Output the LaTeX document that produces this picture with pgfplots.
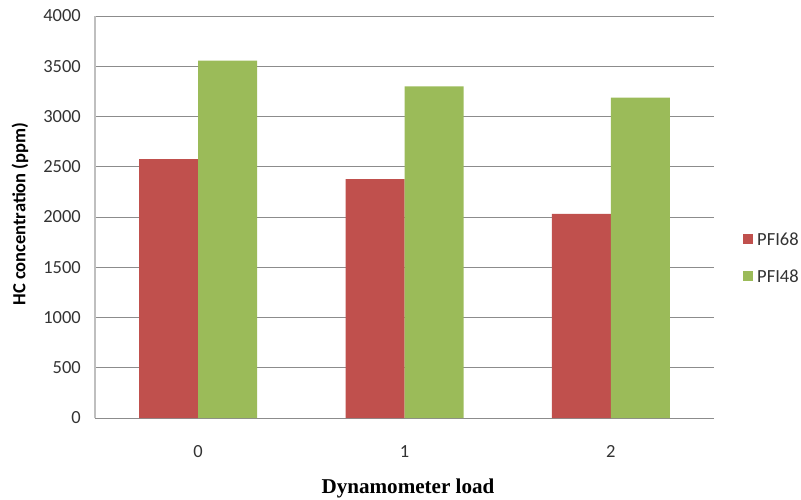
\documentclass[border=0pt]{standalone}
\usepackage{fontspec}
\setmainfont{Carlito}
\newfontfamily\serifbold{Liberation Serif}[BoldFont={Liberation Serif Bold}]
\usepackage{pgfplots}
\pgfplotsset{compat=1.18}

\definecolor{pfired}{HTML}{C0504D}
\definecolor{pfigreen}{HTML}{9BBB59}
\definecolor{gridgray}{HTML}{8C8C8C}
\definecolor{axisgray}{HTML}{BFBFBF}

\newcommand{\chartfont}{\fontsize{18.5}{22}\selectfont}

\begin{document}
\begin{tikzpicture}[x=1pt,y=1pt]
\useasboundingbox (0,0) rectangle (801,499);
\begin{axis}[
  at={(95pt,81pt)}, anchor=south west,
  scale only axis, width=619pt, height=402pt,
  ybar=0pt, bar width=59pt,
  xmin=-0.5, xmax=2.5,
  ymin=0, ymax=4000,
  xtick=data, xticklabels={0,1,2},
  ytick={0,500,...,4000},
  major tick length=0pt,
  axis x line*=bottom, axis y line*=left,
  x axis line style={draw=gridgray, line width=0.9pt, -},
  y axis line style={draw=axisgray, line width=1.1pt, -},
  ymajorgrids, grid style={draw=gridgray, line width=0.9pt},
  /pgf/number format/assume math mode=true,
  yticklabel style={font=\chartfont, text=black!80, inner sep=0pt, anchor=east, xshift=-14pt},
  xticklabel style={font=\chartfont, text=black!80, inner sep=0pt, anchor=north, yshift=-27pt},
  scaled y ticks=false,
  yticklabel={\pgfmathprintnumber[fixed,1000 sep={}]{\tick}},
  xlabel={Dynamometer load},
  xlabel style={font=\serifbold\bfseries\fontsize{21.1}{25}\selectfont, anchor=center,
    at={(axis description cs:0.5,0)}, yshift=-70pt, xshift=3.5pt},
  ylabel={HC concentration (ppm)},
  ylabel style={font=\bfseries\chartfont, anchor=center,
    at={(axis description cs:0,0.5)}, yshift=75pt, xshift=3pt},
  legend style={draw=none, fill=none, inner sep=0pt,
    at={(axis description cs:1,0.397)}, anchor=west, xshift=29pt,
    font=\chartfont, text=black!80, row sep=25pt,
    nodes={inner sep=0pt, text height=12pt, text depth=0pt},
    /tikz/every odd column/.append style={column sep=4.5pt}},
  legend cell align=left,
  legend image code/.code={\fill[#1] (0pt,-3.7pt) rectangle (9.5pt,5.8pt);},
]
\addplot[fill=pfired, draw=none] coordinates {(0,2575) (1,2378) (2,2030)};
\addplot[fill=pfigreen, draw=none] coordinates {(0,3556) (1,3301) (2,3189)};
\legend{PFI68, PFI48}
\end{axis}
\end{tikzpicture}
\end{document}
